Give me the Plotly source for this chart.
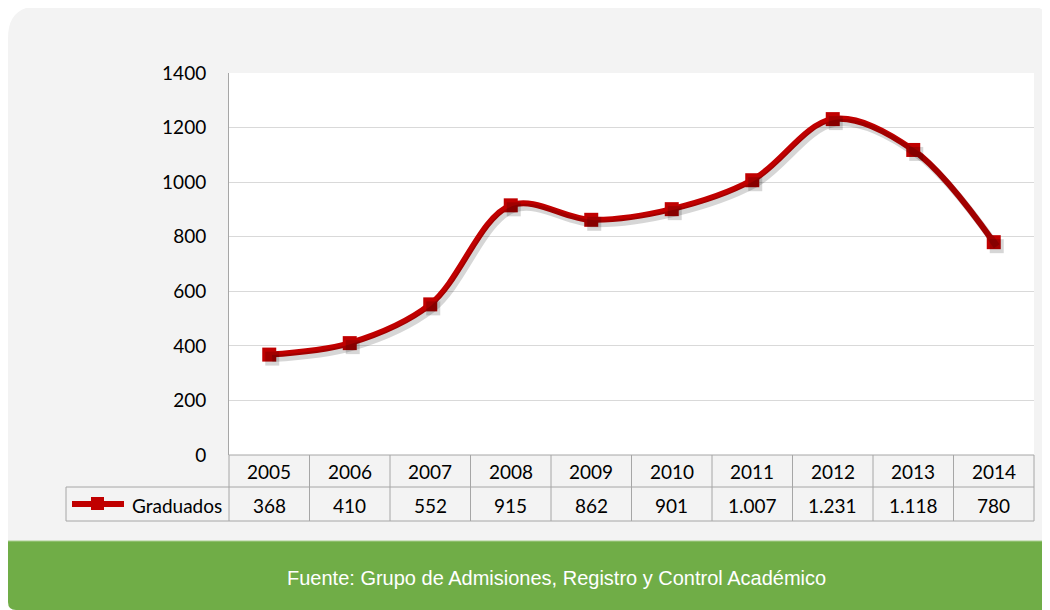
import plotly.graph_objects as go

years = ["2005", "2006", "2007", "2008", "2009", "2010", "2011", "2012", "2013", "2014"]
graduados = [368, 410, 552, 915, 862, 901, 1007, 1231, 1118, 780]
serie = "Graduados"
fuente = "Fuente: Grupo de Admisiones, Registro y Control Académico"

# page offset of the plot div (body margin), pixel coords below are page coords
OFF = 8
W, H = 1050 - OFF, 610 - OFF
L, R, T, B = 229, 1034, 73, 455   # plot area in page pixels
RED = "#C00000"
GRID = "#a6a6a6"
FONT = "Lato"


def px(x):
    return (x - L) / (R - L)


def py(y):
    return (B - y) / (B - T)


def rounded(x0, y0, x1, y1, tl=0, tr=0, bl=0):
    # rounded rectangle as path in paper coords
    s = f"M {px(x0)},{py(y0 + tl)} "
    s += f"Q {px(x0)},{py(y0)} {px(x0 + tl)},{py(y0)} "
    s += f"L {px(x1 - tr)},{py(y0)} "
    s += f"Q {px(x1)},{py(y0)} {px(x1)},{py(y0 + tr)} "
    s += f"L {px(x1)},{py(y1)} "
    s += f"L {px(x0 + bl)},{py(y1)} "
    s += f"Q {px(x0)},{py(y1)} {px(x0)},{py(y1 - bl)} Z"
    return s


def hline(x0, x1, y, color=GRID, width=1):
    return dict(type="line", xref="paper", yref="paper", x0=px(x0), x1=px(x1), y0=py(y), y1=py(y),
                line=dict(color=color, width=width))


def vline(x, y0, y1, color=GRID, width=1):
    return dict(type="line", xref="paper", yref="paper", x0=px(x), x1=px(x), y0=py(y0), y1=py(y1),
                line=dict(color=color, width=width))


fig = go.Figure()

# shadow of the line, drawn on an overlaid axis pair shifted a few pixels
dx = 3 / ((R - L) / len(years))
dy = 4 / ((B - T) / 1400)
fig.add_trace(go.Scatter(
    x=list(range(len(years))), y=graduados, xaxis="x2", yaxis="y2",
    mode="lines+markers", line=dict(color="rgba(0,0,0,0.16)", width=7, shape="spline", smoothing=1),
    marker=dict(symbol="square", size=14, color="rgba(0,0,0,0.16)"),
    hoverinfo="skip", showlegend=False,
))
fig.add_trace(go.Scatter(
    x=list(range(len(years))), y=graduados, name=serie,
    mode="lines+markers", line=dict(color=RED, width=6, shape="spline", smoothing=1),
    marker=dict(symbol="square", size=14, color=RED),
    showlegend=False,
))

shapes = [
    # light gray panel
    dict(type="path", xref="paper", yref="paper", layer="below",
         path=rounded(8, 6, 1050, 541, tl=32, tr=22), fillcolor="#f3f3f3", line=dict(width=0)),
    # white plot area
    dict(type="rect", xref="paper", yref="paper", layer="below",
         x0=0, x1=1, y0=0, y1=1, fillcolor="white", line=dict(width=0)),
    # green footer
    dict(type="path", xref="paper", yref="paper",
         path=rounded(8, 541, 1050, 610, bl=8), fillcolor="#70ad47", line=dict(width=0)),
    hline(8, 1050, 541, color="#a9cf8f"),
]

# data table
col_w = (R - L) / len(years)
r0, r1, r2 = B, 487, 521
shapes.append(hline(L, R, r0))
shapes.append(hline(66, R, r1))
shapes.append(hline(66, R, r2))
for k in range(len(years) + 1):
    shapes.append(vline(L + k * col_w, r0, r2))
shapes.append(vline(66, r1, r2))
# legend key
shapes.append(hline(72, 124, 504, color=RED, width=6))
shapes.append(dict(type="rect", xref="paper", yref="paper", x0=px(91), x1=px(104), y0=py(497), y1=py(510),
                   fillcolor=RED, line=dict(width=0)))

tfont = dict(family=FONT, size=19, color="black")
annotations = []
for i, (yr, v) in enumerate(zip(years, graduados)):
    annotations.append(dict(x=i, xref="x", y=py((r0 + r1) / 2 + 1), yref="paper", text=yr, showarrow=False,
                            xanchor="center", yanchor="middle", font=tfont))
    annotations.append(dict(x=i, xref="x", y=py((r1 + r2) / 2 + 1), yref="paper",
                            text=f"{v:,}".replace(",", "."), showarrow=False,
                            xanchor="center", yanchor="middle", font=tfont))
annotations.append(dict(x=px(224), xref="paper", y=py((r1 + r2) / 2 + 1), yref="paper", text=serie,
                        xanchor="right", yanchor="middle", showarrow=False, font=tfont))
annotations.append(dict(x=px(556), xref="paper", y=py(578), yref="paper", text=fuente, showarrow=False,
                        xanchor="center", yanchor="middle",
                        font=dict(family="Liberation Sans", size=20, color="white")))

fig.update_layout(
    width=W, height=H,
    margin=dict(l=L - OFF, r=(W + OFF) - R, t=T - OFF, b=(H + OFF) - B, pad=0),
    paper_bgcolor="white", plot_bgcolor="rgba(0,0,0,0)",
    xaxis=dict(range=[-0.5, len(years) - 0.5], showticklabels=False, showgrid=False, zeroline=False,
               fixedrange=True),
    yaxis=dict(range=[0, 1400], dtick=200, showgrid=True, gridcolor="#d9d9d9", gridwidth=1,
               zeroline=False, showline=True, linecolor=GRID, linewidth=1,
               ticklabelstandoff=18, tickfont=tfont),
    xaxis2=dict(overlaying="x", range=[-0.5 - dx, len(years) - 0.5 - dx], visible=False),
    yaxis2=dict(overlaying="y", range=[dy, 1400 + dy], visible=False),
    shapes=shapes, annotations=annotations,
)

fig.write_html("out.html")
